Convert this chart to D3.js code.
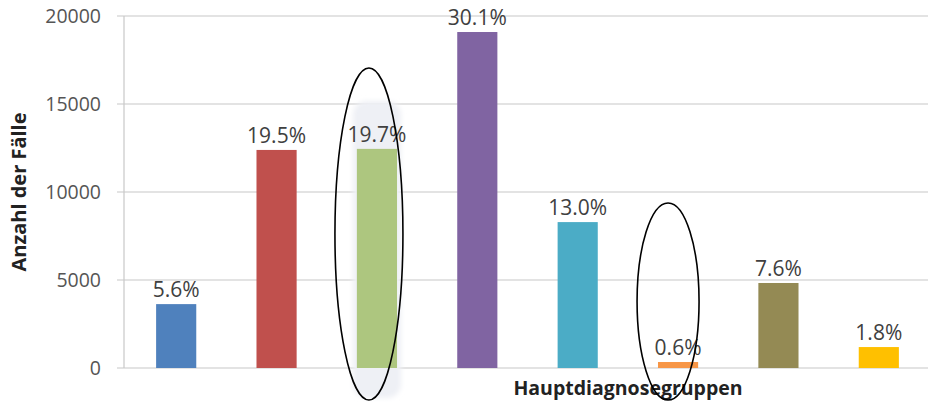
<!DOCTYPE html>
<html>
<head>
<meta charset="utf-8">
<script src="https://cdn.jsdelivr.net/npm/d3@7"></script>
<style>
  body { margin: 0; background: #fff; }
  text { font-family: "Open Sans", "Noto Sans", sans-serif; }
</style>
</head>
<body>
<div id="chart"></div>
<script>
const groups = ["G1", "G2", "G3", "G4", "G5", "G6", "G7", "G8"];
const counts = [3630, 12390, 12450, 19090, 8290, 340, 4830, 1190];
const shares = ["5.6%", "19.5%", "19.7%", "30.1%", "13.0%", "0.6%", "7.6%", "1.8%"];
const colors = ["#4f81bd", "#c0504d", "#adc67f", "#8064a2", "#4bacc6", "#f79646", "#948a54", "#ffc000"];
const yTicks = [0, 5000, 10000, 15000, 20000];
const circled = ["G3", "G6"];

const W = 928, H = 403;
const margin = { top: 16, right: 1, bottom: 35, left: 124 };
const width = W - margin.left - margin.right,
      height = 368 - margin.top;

const svg = d3.select("#chart").append("svg")
    .attr("width", W)
    .attr("height", H);

const defs = svg.append("defs");
defs.append("filter")
    .attr("id", "soft")
    .attr("x", "-50%").attr("y", "-20%")
    .attr("width", "200%").attr("height", "140%")
    .append("feGaussianBlur")
    .attr("stdDeviation", 2.5);

const g = svg.append("g")
    .attr("transform", `translate(${margin.left},${margin.top})`);

const x = d3.scaleBand()
    .domain(groups)
    .range([2, width + 2])
    .paddingInner(0.6)
    .paddingOuter(0.3);

const y = d3.scaleLinear()
    .domain([0, 20000])
    .range([height, 0]);

// gridlines
g.selectAll(".grid")
    .data(yTicks)
    .join("line")
    .attr("x1", -7)
    .attr("x2", width + 1)
    .attr("y1", d => y(d))
    .attr("y2", d => y(d))
    .attr("stroke", "#c8c8c8")
    .attr("stroke-width", 1.2);

// y axis line
g.append("line")
    .attr("x1", 0).attr("x2", 0)
    .attr("y1", 0).attr("y2", height)
    .attr("stroke", "#c8c8c8")
    .attr("stroke-width", 1.2);

g.selectAll(".ytick")
    .data(yTicks)
    .join("text")
    .attr("x", -23)
    .attr("y", d => y(d))
    .attr("dy", "0.36em")
    .attr("text-anchor", "end")
    .attr("fill", "#555")
    .style("font-size", "19.5px")
    .text(d => d);

// soft glow behind the third bar
const gi = groups.indexOf(circled[0]);
g.append("rect")
    .attr("x", x(circled[0]) - 4)
    .attr("width", x.bandwidth() + 8)
    .attr("y", y(counts[gi]) - 48)
    .attr("height", height - y(counts[gi]) + 78)
    .attr("rx", 14)
    .attr("fill", "#eef0f5")
    .attr("filter", "url(#soft)");

// bars
g.selectAll(".bar")
    .data(groups)
    .join("rect")
    .attr("x", d => x(d))
    .attr("y", (d, i) => y(counts[i]))
    .attr("width", x.bandwidth())
    .attr("height", (d, i) => height - y(counts[i]))
    .attr("fill", (d, i) => colors[i]);

// value labels
g.selectAll(".lbl")
    .data(groups)
    .join("text")
    .attr("x", d => x(d) + x.bandwidth() / 2)
    .attr("y", (d, i) => y(counts[i]) - 7)
    .attr("text-anchor", "middle")
    .attr("fill", "#404040")
    .style("font-size", "21px")
    .text((d, i) => shares[i]);

// axis titles
svg.append("text")
    .attr("transform", `translate(26,${margin.top + 176}) rotate(-90)`)
    .attr("text-anchor", "middle")
    .attr("fill", "#222")
    .style("font-size", "20px")
    .style("font-weight", "bold")
    .text("Anzahl der Fälle");

svg.append("text")
    .attr("x", 628)
    .attr("y", 395)
    .attr("text-anchor", "middle")
    .attr("fill", "#222")
    .style("font-size", "19.5px")
    .style("font-weight", "bold")
    .text("Hauptdiagnosegruppen");

// hand-drawn ellipses around the highlighted groups
const ellipses = [
    { id: circled[0], top: 68, bottom: 400, rx: 34, dx: -8 },
    { id: circled[1], top: 203, bottom: 400, rx: 31, dx: -10 }
];
svg.selectAll(".ring")
    .data(ellipses)
    .join("ellipse")
    .attr("cx", d => margin.left + x(d.id) + x.bandwidth() / 2 + d.dx)
    .attr("cy", d => (d.top + d.bottom) / 2)
    .attr("rx", d => d.rx)
    .attr("ry", d => (d.bottom - d.top) / 2)
    .attr("fill", "none")
    .attr("stroke", "#000")
    .attr("stroke-width", 1.6);
</script>
</body>
</html>
